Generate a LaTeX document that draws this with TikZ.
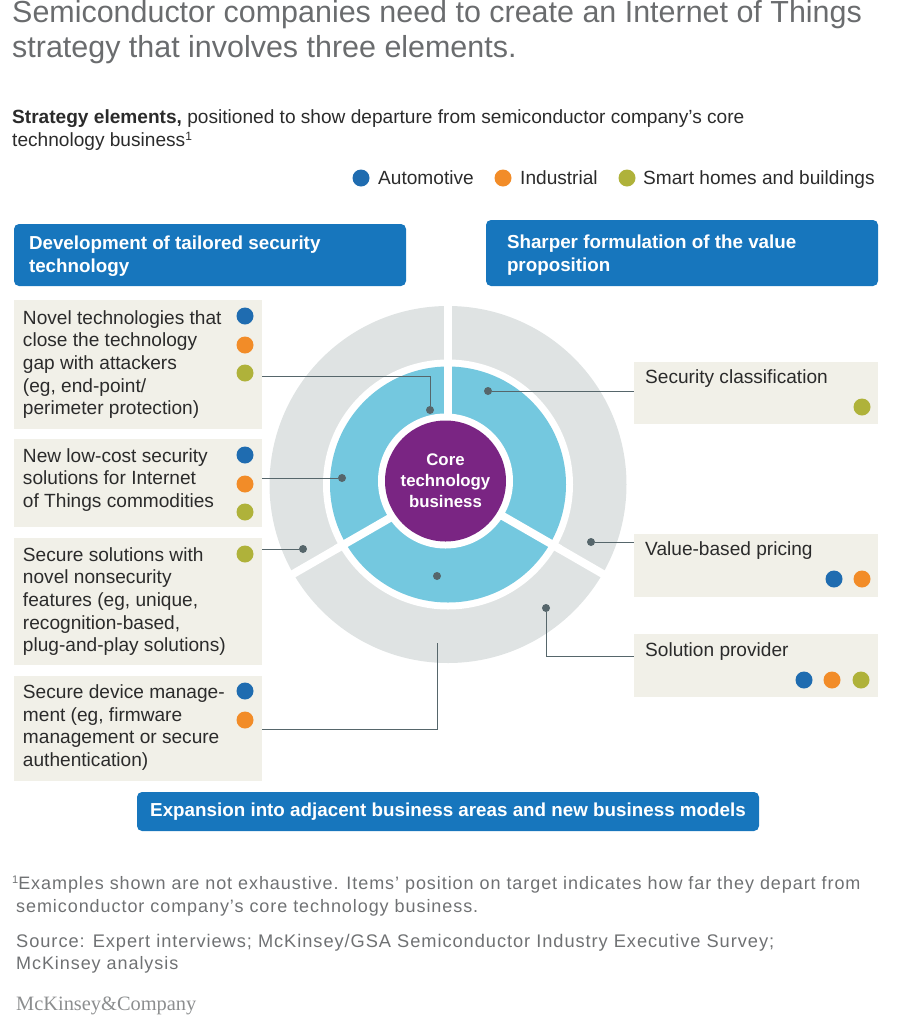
\documentclass[tikz,border=0pt]{standalone}
\usepackage{fontspec}
\setmainfont{Liberation Sans}
\newfontfamily\serifmk{Liberation Serif}
\newfontfamily\notefont[LetterSpace=5.2]{Liberation Sans}
\definecolor{hdr}{HTML}{1776BD}
\definecolor{panelbg}{HTML}{F1F0E8}
\definecolor{ringgray}{HTML}{DFE3E3}
\definecolor{ringblue}{HTML}{74C8DF}
\definecolor{corepurple}{HTML}{7A2583}
\definecolor{dotblue}{HTML}{1F6CB0}
\definecolor{dotorange}{HTML}{F28C28}
\definecolor{dotolive}{HTML}{AFB23A}
\definecolor{markdot}{HTML}{56666B}
\definecolor{titlegray}{HTML}{6A6C6E}
\definecolor{bodytext}{HTML}{2B2B2B}
\definecolor{notegray}{HTML}{6F7173}
\tikzset{
  header/.style={fill=hdr,rounded corners=5pt,text=white,font=\bfseries\fontsize{18.8}{23}\selectfont,align=left,inner sep=0pt,anchor=center},
  panel/.style={fill=panelbg,inner sep=0pt,anchor=center,text=bodytext,font=\fontsize{19.1}{22.6}\selectfont,align=left},
  cat/.style={circle,minimum size=17pt,inner sep=0pt},
  auto/.style={cat,fill=dotblue},
  indu/.style={cat,fill=dotorange},
  home/.style={cat,fill=dotolive},
  marker/.style={circle,fill=markdot,minimum size=8pt,inner sep=0pt},
  leader/.style={draw=markdot,line width=1pt},
  plain/.style={inner sep=0pt,anchor=base west,align=left},
  title/.style={plain,text=titlegray,font=\fontsize{30.45}{36}\selectfont},
  body/.style={plain,text=bodytext,font=\fontsize{19.1}{23}\selectfont},
  note/.style={plain,text=notegray,font=\notefont\fontsize{18}{23}\selectfont},
  gapline/.style={draw=white,line width=8pt},
}
\begin{document}
\begin{tikzpicture}[x=1pt,y=-1pt]
\useasboundingbox (0,0) rectangle (913,1018);
% titles
\node[title] (t1) at (12,22.5) {Semiconductor companies need to create an Internet of Things};
\node[title] (t2) at (12,57) {strategy that involves three elements.};
\node[body] (sub1) at (12,123.5) {\textbf{Strategy elements,} positioned to show departure from semiconductor company’s core};
\node[body] (sub2) at (12,146.5) {technology business\raisebox{6.5pt}{\fontsize{12}{12}\selectfont 1}};
% legend
\node[auto] (la) at (361,178) {}; \node[body] (lat) at (378,184) {Automotive};
\node[indu] (li) at (503,178) {}; \node[body] (lit) at (520,184) {Industrial};
\node[home] (lh) at (627,178) {}; \node[body] (lht) at (643,184) {Smart homes and buildings};
% headers
\node[header,minimum width=392pt,minimum height=62pt] (h1) at (210,255) {\parbox{362pt}{\vspace*{2pt}Development of tailored security\\technology}};
\node[header,minimum width=392pt,minimum height=66pt] (h2) at (682,253) {\parbox{350pt}{\vspace*{5pt}Sharper formulation of the value\\proposition}};
\node[header,minimum width=622pt,minimum height=39pt] (h3) at (448,811.5) {Expansion into adjacent business areas and new business models};
% target
\coordinate (c) at (448,484.5);
\fill[ringgray] (c) circle (178.5pt);
\draw[gapline] (c) -- (448,295);
\draw[gapline] (c) -- (612.5,579.5);
\draw[gapline] (c) -- (283.5,579.5);
\fill[white] (c) circle (125pt);
\fill[ringblue] (c) circle (118pt);
\draw[gapline] (c) -- (448,350);
\draw[gapline] (c) -- (560,549);
\draw[gapline] (c) -- (336,549);
\fill[white] (445.5,481) circle (67.5pt);
\node[circle,fill=corepurple,minimum size=121pt,inner sep=0pt,text=white,align=center,font=\bfseries\fontsize{16.8}{21}\selectfont] (core) at (445.5,481) {Core\\technology\\business};
% left panels
\node[panel,minimum width=248pt,minimum height=129pt] (p1) at (138,364.5) {\parbox{230pt}{Novel technologies that\\close the technology\\gap with attackers\\(eg, end-point/\\perimeter protection)}};
\node[panel,minimum width=248pt,minimum height=88pt] (p2) at (138,483) {\parbox{230pt}{New low-cost security\\solutions for Internet\\of Things commodities\par\vspace{6pt}}};
\node[panel,minimum width=248pt,minimum height=127pt] (p3) at (138,601.5) {\parbox{230pt}{Secure solutions with\\novel nonsecurity\\features (eg, unique,\\recognition-based,\\plug-and-play solutions)}};
\node[panel,minimum width=248pt,minimum height=105pt] (p4) at (138,728.5) {\parbox{230pt}{Secure device manage-\\ment (eg, firmware\\management or secure\\authentication)\par\vspace{2pt}}};
% right panels
\node[panel,minimum width=244pt,minimum height=62pt] (r1) at (756,393) {};
\node[panel,minimum width=244pt,minimum height=63pt] (r2) at (756,565.5) {};
\node[panel,minimum width=244pt,minimum height=63pt] (r3) at (756,665.5) {};
\node[body] (r1t) at (645,383) {Security classification};
\node[body] (r2t) at (645,555) {Value-based pricing};
\node[body] (r3t) at (645,656) {Solution provider};
% category dots
\node[auto] (d1a) at (245,316) {}; \node[indu] (d1b) at (245,345) {}; \node[home] (d1c) at (245,373) {};
\node[auto] (d2a) at (245,455) {}; \node[indu] (d2b) at (245,484) {}; \node[home] (d2c) at (245,512) {};
\node[home] (d3a) at (245,554) {};
\node[auto] (d4a) at (245,691) {}; \node[indu] (d4b) at (245,720) {};
\node[home] (e1a) at (862,407) {};
\node[auto] (e2a) at (834,579) {}; \node[indu] (e2b) at (862,579) {};
\node[auto] (e3a) at (804,680) {}; \node[indu] (e3b) at (832,680) {}; \node[home] (e3c) at (861,680) {};
% position markers and leaders
\node[marker] (m1) at (430,410) {};
\node[marker] (m2) at (342,478) {};
\node[marker] (m3) at (303,549) {};
\node[marker] (m4) at (437,576) {};
\node[marker] (m5) at (488,391) {};
\node[marker] (m6) at (591,542) {};
\node[marker] (m7) at (546,608) {};
\coordinate (a1) at (p1.east |- 0,376);
\coordinate (a2) at (p2.east |- m2);
\coordinate (a3) at (p3.east |- m3);
\coordinate (a4) at (p4.east |- 0,729);
\coordinate (a4end) at (437,643);
\draw[leader] (a1) -| (m1);
\draw[leader] (a2) -- (m2);
\draw[leader] (a3) -- (m3);
\draw[leader] (a4) -| (a4end);
\draw[leader] (m5) -- (r1.west |- m5);
\draw[leader] (m6) -- (r2.west |- m6);
\draw[leader] (m7) |- (r3.west |- 0,656);
% notes
\node[note] (n1) at (12,889) {\raisebox{6pt}{\fontsize{11}{11}\selectfont 1}Examples shown are not exhaustive. Items’ position on target indicates how far they depart from};
\node[note] (n2) at (16,912) {semiconductor company’s core technology business.};
\node[note,font=\notefont\fontsize{18.25}{23}\selectfont] (n3) at (16,947) {Source: Expert interviews; McKinsey/GSA Semiconductor Industry Executive Survey;};
\node[note] (n4) at (16,969) {McKinsey analysis};
\node[plain,text=notegray!80,font=\serifmk\fontsize{20.4}{24}\selectfont] (mk) at (16,1010) {McKinsey\&Company};
\end{tikzpicture}
\end{document}
